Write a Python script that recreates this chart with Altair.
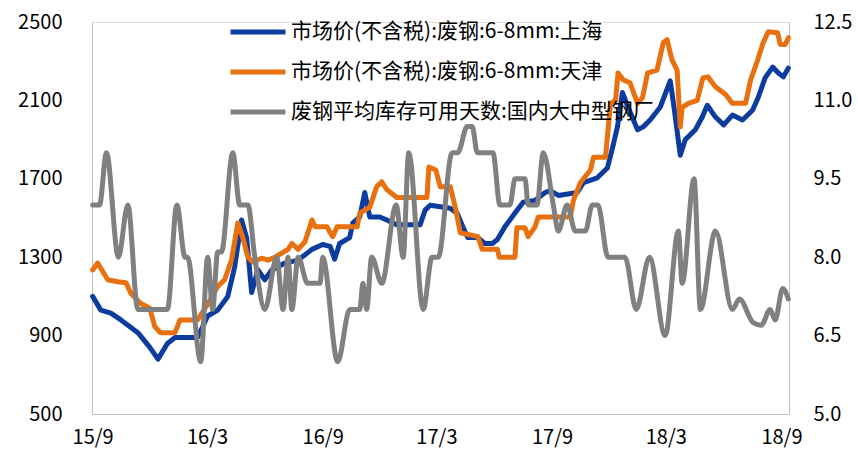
import altair as alt
import pandas as pd

FONT = "Noto Sans CJK SC"

S_SH = "市场价(不含税):废钢:6-8mm:上海"
S_TJ = "市场价(不含税):废钢:6-8mm:天津"
S_DAYS = "废钢平均库存可用天数:国内大中型钢厂"

# Shanghai scrap price (left axis)
sh_dates = ["2015-09-01","2015-09-14","2015-09-30","2015-10-16","2015-11-12","2015-12-01","2015-12-14",
            "2015-12-29","2016-01-10","2016-02-15","2016-03-02","2016-03-18","2016-04-03","2016-04-14",
            "2016-04-25","2016-05-03","2016-05-11","2016-05-21","2016-06-01","2016-06-12","2016-07-03",
            "2016-07-24","2016-08-15","2016-09-01","2016-09-13","2016-09-20","2016-09-28","2016-10-14",
            "2016-10-19","2016-10-30","2016-11-07","2016-11-15","2016-12-01","2016-12-12","2016-12-28",
            "2017-02-03","2017-02-11","2017-02-19","2017-03-23","2017-04-03","2017-04-12","2017-04-20",
            "2017-05-06","2017-05-17","2017-05-29","2017-06-06","2017-06-18","2017-07-04","2017-07-17",
            "2017-08-05","2017-08-21","2017-08-29","2017-09-11","2017-10-11","2017-10-21","2017-11-12",
            "2017-11-28","2017-12-06","2017-12-14","2017-12-22","2017-12-31","2018-01-15","2018-01-24",
            "2018-02-04","2018-02-20","2018-03-08","2018-03-14","2018-03-24","2018-04-01","2018-04-17",
            "2018-04-28","2018-05-06","2018-05-19","2018-06-01","2018-06-15","2018-07-01","2018-07-17",
            "2018-07-26","2018-08-06","2018-08-18","2018-08-27","2018-09-04","2018-09-12"]
sh_values = [1100,1030,1015,980,915,840,780,
             860,890,890,1000,1030,1100,1250,
             1490,1400,1120,1235,1185,1235,1270,
             1285,1340,1365,1355,1290,1370,1400,
             1475,1505,1630,1505,1505,1490,1465,
             1465,1540,1565,1550,1525,1455,1400,
             1400,1370,1370,1390,1455,1525,1580,
             1590,1630,1640,1615,1630,1680,1705,
             1755,1855,1965,2140,2065,1950,1965,
             2000,2065,2200,2066,1820,1900,1950,
             2015,2075,2015,1975,2025,2000,2050,
             2115,2215,2270,2240,2220,2265]

# Tianjin scrap price (left axis)
tj_dates = ["2015-09-01","2015-09-09","2015-09-25","2015-10-11","2015-10-24","2015-11-01","2015-11-16",
            "2015-12-01","2015-12-09","2015-12-18","2016-01-10","2016-01-18","2016-02-15","2016-03-02",
            "2016-03-18","2016-03-29","2016-04-09","2016-04-19","2016-04-27","2016-05-05","2016-05-13",
            "2016-05-27","2016-06-06","2016-06-17","2016-07-08","2016-07-14","2016-07-24","2016-08-04",
            "2016-08-15","2016-08-20","2016-09-08","2016-09-13","2016-09-17","2016-09-24","2016-10-26",
            "2016-10-30","2016-11-15","2016-11-26","2016-12-04","2016-12-12","2016-12-28","2017-02-14",
            "2017-02-17","2017-02-28","2017-03-07","2017-03-23","2017-03-31","2017-04-08","2017-05-06",
            "2017-05-13","2017-06-06","2017-06-09","2017-07-04","2017-07-07","2017-07-20","2017-07-25",
            "2017-08-05","2017-08-10","2017-09-30","2017-10-05","2017-10-16","2017-11-01","2017-11-06",
            "2017-11-25","2017-12-03","2017-12-11","2017-12-15","2017-12-23","2018-01-03","2018-01-15",
            "2018-01-23","2018-01-31","2018-02-15","2018-02-25","2018-03-03","2018-03-11","2018-03-19",
            "2018-03-24","2018-03-27","2018-04-06","2018-04-20","2018-04-29","2018-05-07","2018-05-19",
            "2018-06-04","2018-06-15","2018-07-06","2018-07-14","2018-07-25","2018-08-03","2018-08-11",
            "2018-08-26","2018-08-30","2018-09-07","2018-09-12"]
tj_values = [1235,1270,1185,1175,1170,1115,1065,
             1040,945,915,915,980,980,1060,
             1150,1185,1285,1475,1400,1300,1275,
             1295,1285,1300,1340,1370,1340,1380,
             1490,1455,1455,1425,1405,1455,1455,
             1525,1555,1660,1685,1645,1605,1605,
             1760,1745,1660,1660,1555,1425,1405,
             1340,1340,1300,1300,1450,1450,1405,
             1455,1505,1505,1590,1680,1745,1810,
             1810,2085,2100,2240,2205,2190,2085,
             2115,2240,2255,2395,2410,2305,2255,
             1965,2065,2085,2100,2215,2220,2170,
             2130,2085,2085,2205,2305,2395,2450,
             2445,2385,2385,2420]

# Average scrap inventory days (right axis)
days_dates = ["2015-09-01","2015-09-12","2015-09-23","2015-10-12","2015-10-27","2015-11-12","2015-12-29",
              "2016-01-13","2016-01-26","2016-01-30","2016-02-20","2016-03-02","2016-03-10","2016-03-18",
              "2016-03-24","2016-04-11","2016-04-22","2016-05-05","2016-05-16","2016-06-01","2016-06-20",
              "2016-06-30","2016-07-08","2016-07-14","2016-07-24","2016-08-08","2016-08-28","2016-09-01",
              "2016-09-25","2016-10-14","2016-10-30","2016-11-04","2016-11-10","2016-11-18","2016-12-04",
              "2016-12-27","2017-01-07","2017-01-16","2017-02-08","2017-02-22","2017-03-04","2017-03-26",
              "2017-04-04","2017-04-19","2017-04-27","2017-05-05","2017-05-30","2017-06-10","2017-06-26",
              "2017-07-04","2017-07-20","2017-07-25","2017-08-08","2017-08-18","2017-09-03","2017-09-11",
              "2017-09-25","2017-10-08","2017-10-24","2017-11-04","2017-11-13","2017-11-29","2017-12-26",
              "2018-01-13","2018-02-03","2018-02-28","2018-03-21","2018-03-27","2018-04-15","2018-04-25",
              "2018-05-19","2018-06-15","2018-06-26","2018-07-18","2018-07-31","2018-08-14","2018-08-22",
              "2018-09-03","2018-09-12"]
days_values = [9.0,9.0,10.0,8.0,9.0,7.0,7.0,
               9.0,8.0,8.0,6.0,8.0,7.0,8.1,
               8.1,10.0,9.0,9.0,8.0,7.0,8.0,
               7.0,8.0,7.0,8.0,7.5,7.5,8.0,
               6.0,7.0,7.0,7.5,7.0,8.0,7.5,
               9.0,8.0,10.0,7.0,8.0,8.0,10.0,
               10.0,10.5,10.5,10.0,10.0,9.0,9.0,
               9.5,9.5,9.0,9.0,10.0,9.0,8.5,
               9.0,8.5,8.5,9.0,9.0,8.0,8.0,
               7.0,8.0,6.5,8.5,7.5,9.5,7.0,
               8.5,7.0,7.2,6.75,6.7,7.0,6.8,
               7.4,7.2]

left_ticks = [500, 900, 1300, 1700, 2100, 2500]
right_ticks = [5.0, 6.5, 8.0, 9.5, 11.0, 12.5]
x_ticks = [(2015, 9), (2016, 3), (2016, 9), (2017, 3), (2017, 9), (2018, 3), (2018, 9)]

price_df = pd.concat([
    pd.DataFrame({"date": sh_dates, "value": sh_values, "series": S_SH}),
    pd.DataFrame({"date": tj_dates, "value": tj_values, "series": S_TJ}),
])
days_df = pd.DataFrame({"date": days_dates, "value": days_values, "series": S_DAYS})

series_order = [S_SH, S_TJ, S_DAYS]
colors = ["#0B3C9E", "#E8700F", "#808080"]

x_enc = alt.X(
    "date:T",
    scale=alt.Scale(type="utc",
                    domain=[alt.DateTime(year=2015, month=8, date=31, utc=True),
                            alt.DateTime(year=2018, month=9, date=13, utc=True)]),
    axis=alt.Axis(values=[alt.DateTime(year=y, month=m, date=1, utc=True) for y, m in x_ticks],
                  labelExpr="utcFormat(datum.value, '%y/%-m')", title=None, grid=False, ticks=False,
                  labelPadding=13, domainColor="#BFBFBF", labelFontSize=20, labelColor="#000000",
                  labelFont=FONT, labelFlush=False),
)

color_enc = alt.Color(
    "series:N",
    scale=alt.Scale(domain=series_order, range=colors),
    sort=series_order,
    legend=alt.Legend(title=None, orient="none", legendX=136, legendY=-20, symbolType="stroke",
                      symbolSize=3025, symbolStrokeWidth=5, labelFontSize=21, labelFont=FONT,
                      labelColor="#000000", labelOffset=3, rowPadding=-8, padding=0,
                      labelLimit=600),
)

price = alt.Chart(price_df).mark_line(strokeWidth=5, strokeCap="round", strokeJoin="round").encode(
    x=x_enc,
    y=alt.Y("value:Q", scale=alt.Scale(domain=[500, 2500], nice=False, zero=False),
            axis=alt.Axis(values=left_ticks, format="d", title=None, grid=False, ticks=False,
                          labelPadding=30, domainColor="#BFBFBF", labelFontSize=20,
                          labelColor="#000000", labelFont=FONT, orient="left")),
    color=color_enc,
    order=alt.Order("date:T"),
)

days = alt.Chart(days_df).mark_line(strokeWidth=5, strokeCap="round", strokeJoin="round",
                                    interpolate="monotone").encode(
    x=x_enc,
    y=alt.Y("value:Q", scale=alt.Scale(domain=[5, 12.5], nice=False, zero=False),
            axis=alt.Axis(values=right_ticks, format=".1f", title=None, grid=False, ticks=False,
                          labelPadding=24, domainColor="#BFBFBF", labelFontSize=20,
                          labelColor="#000000", labelFont=FONT, orient="right")),
    color=color_enc,
)

chart = alt.layer(price, days).resolve_scale(y="independent").properties(
    width=697, height=392,
    autosize=alt.AutoSizeParams(type="none"),
    padding={"left": 92, "top": 22, "right": 69, "bottom": 42},
).configure_view(stroke=None).configure(background="white")

chart.save("out.html", embed_options={"renderer": "svg", "actions": False})
